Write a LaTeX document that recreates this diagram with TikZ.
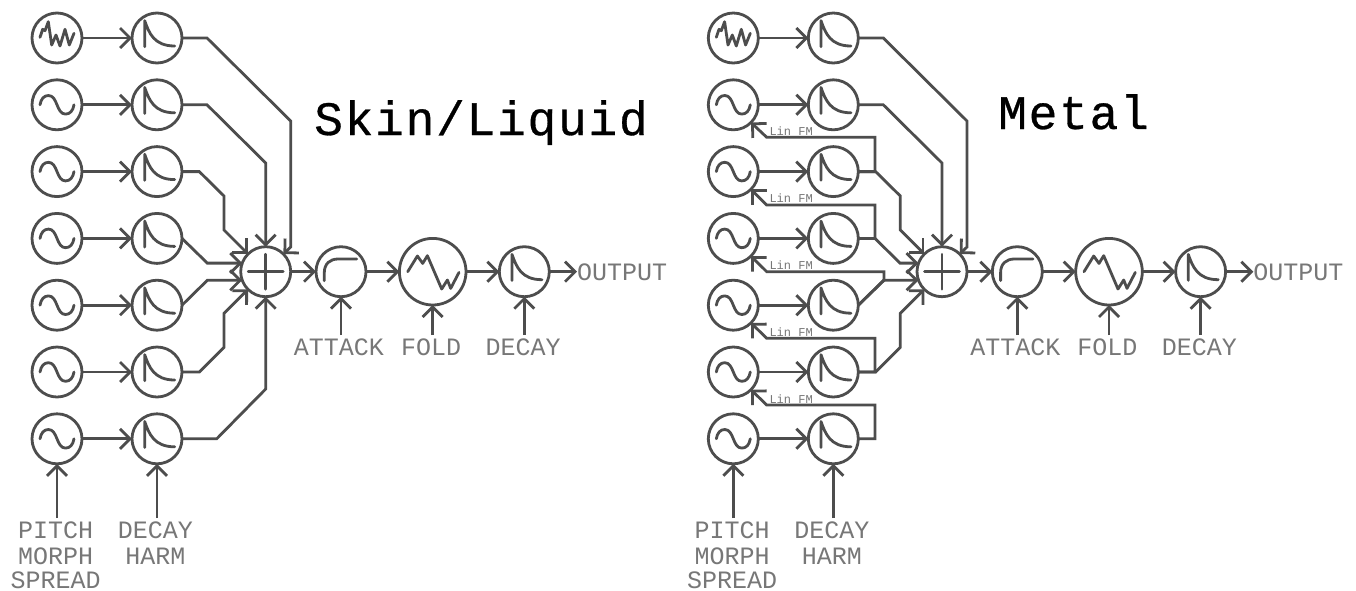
\documentclass[tikz,border=0pt]{standalone}
\usepackage{fontspec}
\usetikzlibrary{arrows.meta}
\newfontfamily\lblfont{Liberation Mono}
\newfontfamily\titlefont[LetterSpace=3.5,FakeBold=0.6]{Liberation Mono}
\definecolor{ink}{HTML}{4D4D4D}
\definecolor{lbl}{HTML}{777777}
\tikzset{
  x=1pt,y=-1pt,
  wire/.style={draw=ink,line width=2.8pt,line join=miter},
  conn/.style={wire,-{Straight Barb[length=10pt,width=20pt]}},
  unit/.style={circle,draw=ink,line width=2.8pt,minimum size=50pt,inner sep=0pt,outer sep=0pt},
  bigunit/.style={unit,minimum size=66.6pt},
  glyph/.style={draw=ink,line width=2.8pt,line cap=round,line join=round},
  lab/.style={font=\lblfont\fontsize{25}{25}\selectfont,text=lbl,anchor=base,inner sep=0pt,outer sep=0pt,text height=20pt,text depth=0pt},
  fmlab/.style={font=\lblfont\fontsize{12}{12}\selectfont,text=lbl,anchor=base west,inner sep=0pt},
  title/.style={font=\titlefont\fontsize{48}{48}\selectfont,text=black,anchor=base west,inner sep=0pt},
  pics/noiseg/.style={code={\draw[glyph] (-17,-0.7)--(-14.3,-8.7)--(-12,-7.3)--(-8.7,-16.3)--(-5.3,7)--(-1,-3)--(3,8)--(8,-8.7)--(12.3,7)--(17,-4.7);}},
  pics/sineg/.style={code={\draw[glyph] (-17,0) .. controls (-16,-6) and (-13,-9.3) .. (-8.5,-9.3) .. controls (-4,-9.3) and (-2,-5) .. (0,0) .. controls (2,5) and (4,9.3) .. (8.5,9.3) .. controls (13,9.3) and (16,6) .. (17,0);}},
  pics/envg/.style={code={\draw[glyph] (-12.3,8.7)--(-12.3,-17.3) .. controls (-8,-5) and (-3,8) .. (17.7,8);}},
  pics/attg/.style={code={\draw[glyph] (-16.7,9)--(-16.7,1) .. controls (-16.7,-8) and (-11,-12.7) .. (-3,-12.7)--(15.7,-12.7);}},
  pics/foldg/.style={code={\draw[glyph] (-25,0)--(-15.3,-15.7)--(-10,-8.3)--(-5.3,-16)--(9,17.3)--(14.7,8.3)--(18,16.7)--(26.3,0.7);}},
  pics/plusg/.style={code={\draw[glyph] (-17.5,0)--(17.5,0) (0,-17.5)--(0,17.5);}},
}
\begin{document}
\begin{tikzpicture}
\fill[white] (0,0) rectangle (1356,590);
\useasboundingbox (0,0) rectangle (1356,590);
\foreach \P/\dx in {L/0,R/676.3}{
\begin{scope}[xshift=\dx pt]
  \foreach \i/\yy in {1/38,2/104.8,3/171.6,4/238.4,5/305.2,6/372,7/438.8}{
    \node[unit] (\P o\i) at (57,\yy) {};
    \node[unit] (\P e\i) at (157,\yy) {};
    \pic at (157,\yy) {envg};
    \ifnum\i=1 \pic at (57,\yy) {noiseg}; \else \pic at (57,\yy) {sineg}; \fi
    \draw[conn] (\P o\i.east) -- (\P e\i.west);
  }
  \node[unit] (\P m) at (265.7,271.7) {};
  \pic at (265.7,271.7) {plusg};
  \node[unit] (\P a) at (341,271.7) {};
  \pic at (341,271.7) {attg};
  \node[bigunit] (\P f) at (432.7,271.7) {};
  \pic at (432.7,271.7) {foldg};
  \node[unit] (\P d) at (524.3,271.7) {};
  \pic at (524.3,271.7) {envg};
  \draw[conn] (\P m.east) -- (\P a.west);
  \draw[conn] (\P a.east) -- (\P f.west);
  \draw[conn] (\P f.east) -- (\P d.west);
  \node[lab,anchor=base west,text height=10pt] (\P out) at (577,280) {OUTPUT};
  \draw[conn] (\P d.east) -- (\P d.east -| \P out.west);
  \node[lab] (\P lp) at (55.7,538) {PITCH};
  \node[lab,text height=16pt] (\P lm) at (55.7,564) {MORPH};
  \node[lab,text height=16pt] (\P ls) at (55.7,588) {SPREAD};
  \node[lab] (\P lde) at (155.5,538) {DECAY};
  \node[lab,text height=16pt] (\P lh) at (155.5,564) {HARM};
  \node[lab] (\P lat) at (339,355) {ATTACK};
  \node[lab] (\P lfo) at (431,355) {FOLD};
  \node[lab] (\P ldc) at (523,355) {DECAY};
  \draw[conn] (\P lp.north -| \P o7) -- (\P o7.south);
  \draw[conn] (\P lde.north -| \P e7) -- (\P e7.south);
  \draw[conn] (\P lat.north -| \P a) -- (\P a.south);
  \draw[conn] (\P lfo.north -| \P f) -- (\P f.south);
  \draw[conn] (\P ldc.north -| \P d) -- (\P d.south);
  % outputs common to both patches
  \draw[conn] (\P e1.east) -- (207,38) -- (290.7,121) -- (290.7,247) -- (\P m.45);
  \draw[conn] (\P e2.east) -- (207,104.8) -- (265.7,163) -- (\P m.north);
  \draw[conn] (\P e3.east) -- (199.3,171.6) -- (224,196) -- (224,230) -- (\P m.135);
  \draw[conn] (\P e6.east) -- (199.3,372) -- (224,347.3) -- (224,313.3) -- (\P m.225);
  \draw[conn] (\P e5.east) -- (207.3,280.3) -- (\P m.200);
\end{scope}
}
% Left-only
\draw[conn] (Le4.east) -- (207.3,263.1) -- (Lm.160);
\draw[conn] (Le7.east) -- (216.7,438.8) -- (265.7,389) -- (Lm.south);
% Right-only FM
\begin{scope}[xshift=676.3pt]
  \draw[conn] (Re4.east) -- (198.7,238.4) -- (223.7,263.1) -- (Rm.160);
  \draw[conn] (Re3.east) -- (198.7,171.6) -- (198.7,137.3) -- (90.4,137.3) -- (Ro2.-45);
  \draw[conn] (Re4.east) -- (198.7,238.4) -- (198.7,205) -- (90.4,205) -- (Ro3.-45);
  \draw[conn] (Re5.east) -- (207.7,280.3) -- (207.7,271.7) -- (90.4,271.7) -- (Ro4.-45);
  \draw[conn] (Re6.east) -- (198.7,372) -- (198.7,338.3) -- (90.4,338.3) -- (Ro5.-45);
  \draw[conn] (Re7.east) -- (198.7,438.8) -- (198.7,405) -- (90.4,405) -- (Ro6.-45);
  \node[fmlab] (fm1) at (93,135) {Lin FM};
  \node[fmlab] (fm2) at (93,202.5) {Lin FM};
  \node[fmlab] (fm3) at (93,269.5) {Lin FM};
  \node[fmlab] (fm4) at (93,336) {Lin FM};
  \node[fmlab] (fm5) at (93,403) {Lin FM};
\end{scope}
\node[title] (t1) at (314,135) {Skin/Liquid};
\node[title] (t2) at (998,129) {Metal};
\end{tikzpicture}
\end{document}
